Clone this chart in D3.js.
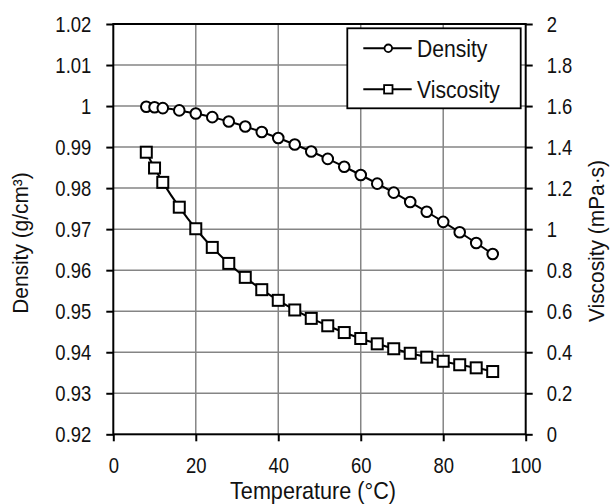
<!DOCTYPE html>
<html>
<head>
<meta charset="utf-8">
<script src="https://cdn.jsdelivr.net/npm/d3@7"></script>
<style>
  html, body { margin: 0; padding: 0; background: #fff; }
  svg { display: block; }
  text { font-family: "Liberation Sans", Arial, sans-serif; fill: #111; }
</style>
</head>
<body>
<div id="chart"></div>
<script>
// temperatures (°C) shared by both series
const temps = [8, 10, 12, 16, 20, 24, 28, 32, 36, 40, 44, 48, 52, 56, 60, 64, 68, 72, 76, 80, 84, 88, 92]
// density in g/cm³
const density = [0.99985, 0.99970, 0.99950, 0.99894, 0.99820, 0.99730, 0.99623, 0.99503, 0.99369,
  0.99222, 0.99063, 0.98893, 0.98712, 0.98521, 0.98320, 0.98109, 0.97890, 0.97661, 0.97424,
  0.97178, 0.96924, 0.96662, 0.96393]
// viscosity in mPa·s
const viscosity = [1.375, 1.298, 1.228, 1.107, 1.002, 0.911, 0.833, 0.765, 0.705, 0.653, 0.606,
  0.565, 0.529, 0.496, 0.467, 0.441, 0.417, 0.395, 0.376, 0.356, 0.339, 0.324, 0.306]

const xTicks = [0, 20, 40, 60, 80, 100]
const yLeftTicks = [0.92, 0.93, 0.94, 0.95, 0.96, 0.97, 0.98, 0.99, 1, 1.01, 1.02]
const yRightTicks = [0, 0.2, 0.4, 0.6, 0.8, 1, 1.2, 1.4, 1.6, 1.8, 2]
const seriesNames = ['Density', 'Viscosity']

const W = 611, H = 504
const pL = 113.3, pR = 525.7, pT = 24, pB = 434.3

const svg = d3.select('#chart').append('svg')
  .attr('width', W)
  .attr('height', H)

const x = d3.scaleLinear().domain([0, 100]).range([pL, pR])
const yL = d3.scaleLinear().domain([0.92, 1.02]).range([pB, pT])
const yR = d3.scaleLinear().domain([0, 2]).range([pB, pT])

// squeeze horizontal text a little, the source font is narrow
const squeeze = (sel, k) => {
  sel.each(function () {
    const t = d3.select(this)
    const xx = +t.attr('x') || 0
    t.attr('x', xx / k).attr('transform', `scale(${k},1)`)
  })
}

// grid
svg.append('g')
  .selectAll('line')
  .data(xTicks.slice(1, -1))
  .join('line')
  .attr('x1', d => x(d)).attr('x2', d => x(d))
  .attr('y1', pT).attr('y2', pB)
  .attr('stroke', '#858585').attr('stroke-width', 1.5)

svg.append('g')
  .selectAll('line')
  .data(yLeftTicks.slice(1, -1))
  .join('line')
  .attr('x1', pL).attr('x2', pR)
  .attr('y1', d => yL(d)).attr('y2', d => yL(d))
  .attr('stroke', '#858585').attr('stroke-width', 1.5)

// axes
const fmt = d => d3.format('~g')(d)
const axL = svg.append('g')
  .attr('transform', `translate(${pL},0)`)
  .call(d3.axisLeft(yL).tickValues(yLeftTicks).tickFormat(fmt).tickSize(7).tickPadding(15))
const axR = svg.append('g')
  .attr('transform', `translate(${pR},0)`)
  .call(d3.axisRight(yR).tickValues(yRightTicks).tickFormat(fmt).tickSize(7).tickPadding(14))
const axB = svg.append('g')
  .attr('transform', `translate(0,${pB})`)
  .call(d3.axisBottom(x).tickValues(xTicks).tickFormat(d3.format('d')).tickSize(7).tickPadding(16))

for (const ax of [axL, axR, axB]) {
  ax.select('.domain').remove()
  ax.selectAll('.tick line').attr('stroke', '#000').attr('stroke-width', 2)
  ax.selectAll('.tick text')
    .attr('font-size', 22)
    .attr('font-family', '"Liberation Sans", Arial, sans-serif')
    .attr('fill', '#1a1a1a')
    .call(squeeze, 0.84)
}

// frame
svg.append('rect')
  .attr('x', pL).attr('y', pT)
  .attr('width', pR - pL).attr('height', pB - pT)
  .attr('fill', 'none').attr('stroke', '#000').attr('stroke-width', 2)

// series
const dens = temps.map((t, i) => ({ t, v: density[i] }))
const visc = temps.map((t, i) => ({ t, v: viscosity[i] }))

const lineL = d3.line().x(d => x(d.t)).y(d => yL(d.v)).curve(d3.curveCatmullRom)
const lineR = d3.line().x(d => x(d.t)).y(d => yR(d.v)).curve(d3.curveCatmullRom)

svg.append('path').datum(dens).attr('d', lineL)
  .attr('fill', 'none').attr('stroke', '#000').attr('stroke-width', 2)
svg.append('path').datum(visc).attr('d', lineR)
  .attr('fill', 'none').attr('stroke', '#000').attr('stroke-width', 2)

svg.append('g').selectAll('circle')
  .data(dens)
  .join('circle')
  .attr('cx', d => x(d.t)).attr('cy', d => yL(d.v)).attr('r', 5.3)
  .attr('fill', '#fff').attr('stroke', '#000').attr('stroke-width', 2)

const sq = 11
svg.append('g').selectAll('rect')
  .data(visc)
  .join('rect')
  .attr('x', d => x(d.t) - sq / 2).attr('y', d => yR(d.v) - sq / 2)
  .attr('width', sq).attr('height', sq)
  .attr('fill', '#fff').attr('stroke', '#000').attr('stroke-width', 2)

// axis titles
svg.append('text')
  .attr('transform', `translate(313,499) scale(0.9,1)`)
  .attr('text-anchor', 'middle')
  .attr('font-size', 24)
  .attr('fill', '#1a1a1a')
  .text('Temperature (°C)')

svg.append('text')
  .attr('transform', 'translate(28,243) rotate(-90) scale(0.95,1)')
  .attr('text-anchor', 'middle')
  .attr('font-size', 22)
  .attr('fill', '#1a1a1a')
  .text('Density (g/cm³)')

svg.append('text')
  .attr('transform', 'translate(604,241) rotate(-90) scale(0.95,1)')
  .attr('text-anchor', 'middle')
  .attr('font-size', 22)
  .attr('fill', '#1a1a1a')
  .text('Viscosity (mPa·s)')

// legend
const lg = svg.append('g')
lg.append('rect')
  .attr('x', 347.3).attr('y', 28.3)
  .attr('width', 173.4).attr('height', 80)
  .attr('fill', '#fff').attr('stroke', '#000').attr('stroke-width', 1.8)

const rowY = [48.3, 89.3]
seriesNames.forEach((name, i) => {
  const g = lg.append('g').attr('transform', `translate(0,${rowY[i]})`)
  g.append('line')
    .attr('x1', 363.3).attr('x2', 411.7).attr('y1', 0).attr('y2', 0)
    .attr('stroke', '#000').attr('stroke-width', 2)
  if (i === 0) {
    g.append('circle').attr('cx', 388.3).attr('cy', 0).attr('r', 3.8)
      .attr('fill', '#fff').attr('stroke', '#000').attr('stroke-width', 1.8)
  } else {
    g.append('rect').attr('x', 388.3 - 4.2).attr('y', -4.2).attr('width', 8.4).attr('height', 8.4)
      .attr('fill', '#fff').attr('stroke', '#000').attr('stroke-width', 1.8)
  }
  g.append('text')
    .attr('transform', 'translate(417,8.5) scale(0.88,1)')
    .attr('font-size', 24)
    .attr('fill', '#1a1a1a')
    .text(name)
})
</script>
</body>
</html>
